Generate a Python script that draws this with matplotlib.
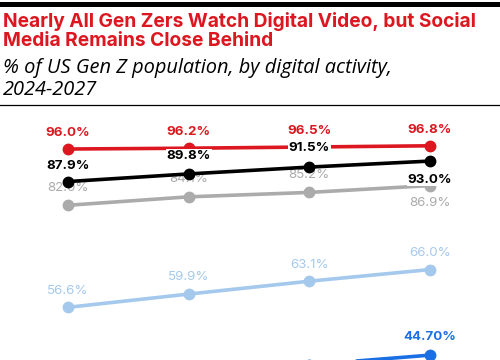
import matplotlib
matplotlib.use("Agg")
import matplotlib.pyplot as plt
from matplotlib.lines import Line2D

years = ["2024", "2025", "2026", "2027"]
digital_video = [96.0, 96.2, 96.5, 96.8]
social_media = [87.9, 89.8, 91.5, 93.0]
gray_series = [82.0, 84.1, 85.2, 86.9]
lightblue_series = [56.6, 59.9, 63.1, 66.0]
blue_series = [37.2, 39.8, 42.3, 44.7]

red_labels = ["96.0%", "96.2%", "96.5%", "96.8%"]
black_labels = ["87.9%", "89.8%", "91.5%", "93.0%"]
gray_labels = ["82.0%", "84.1%", "85.2%", "86.9%"]
lightblue_labels = ["56.6%", "59.9%", "63.1%", "66.0%"]
blue_labels = ["37.20%", "39.80%", "42.30%", "44.70%"]

RED = "#dc1720"
BLACK = "#000000"
GRAY = "#ababab"
LBLUE = "#a5c9ec"
BLUE = "#1a6fe3"

FONT = "Inter"

fig = plt.figure(figsize=(5, 3.6), dpi=100)
fig.patch.set_facecolor("white")

# header decorations
fig.add_artist(Line2D([0, 1], [1 - 3.5/360, 1 - 3.5/360], color="black", lw=3.6, transform=fig.transFigure))
fig.add_artist(Line2D([0, 1], [1 - 105/360, 1 - 105/360], color="black", lw=0.9, transform=fig.transFigure))

fig.text(3/500, 1 - 12/360, "Nearly All Gen Zers Watch Digital Video, but Social\nMedia Remains Close Behind",
         color=RED, fontsize=13.8, fontweight="bold", family=FONT, va="top", ha="left", linespacing=1.1)
fig.text(3/500, 1 - 58/360, "% of US Gen Z population, by digital activity,\n2024-2027",
         color="black", fontsize=14.4, style="italic", family="Open Sans", va="top", ha="left", linespacing=1.12)

ax = fig.add_axes([0, 0, 1, 250/360])
ax.set_xlim(-68/120.67, (500-68)/120.67)
ax.set_ylim(43.49, 105.71)
ax.axis("off")

x = list(range(len(years)))

def series(vals, labels, color, lw_z, lab_z, offsets, bold):
    ax.plot(x, vals, color=color, lw=2.6, marker="o", ms=7.5, zorder=lw_z, solid_capstyle="round")
    for xi, v, lab, off in zip(x, vals, labels, offsets):
        ax.annotate(lab, (xi, v), xytext=(0, off), textcoords="offset points",
                    ha="center", va="center", color=color, fontsize=9.6,
                    fontweight="bold" if bold else "normal", family=FONT, zorder=lab_z,
                    bbox=dict(boxstyle="square,pad=0.05", fc="white", ec="none"))

series(gray_series, gray_labels, GRAY, 2, 2.5, [12.5, 12.5, 12.5, -12.5], False)
series(social_media, black_labels, BLACK, 3, 4, [11.5, 13, 14, -13.5], True)
series(digital_video, red_labels, RED, 3.5, 4.5, [11.5, 11.5, 11.5, 11.5], True)
series(lightblue_series, lightblue_labels, LBLUE, 2, 2.5, [12, 12, 12, 12], False)
series(blue_series, blue_labels, BLUE, 2, 2.5, [13.5, 13.5, 13.5, 13], True)

fig.savefig("out.png", dpi=100, facecolor="white")
